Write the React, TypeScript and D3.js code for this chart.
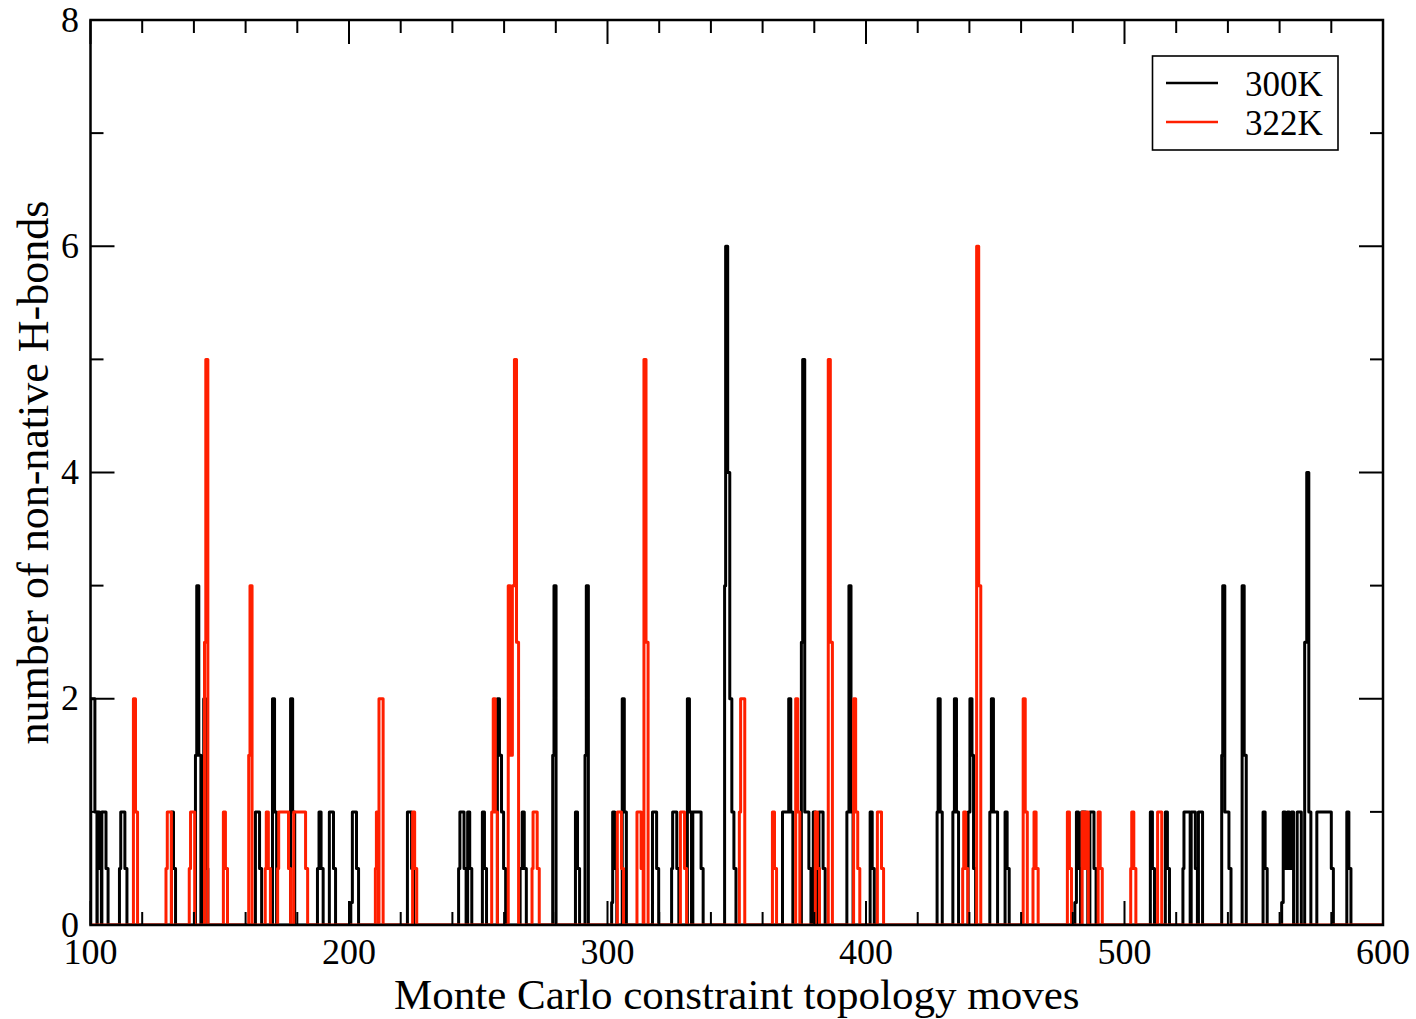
import React from "react";
import * as d3 from "d3";

// Non-zero samples: [move, H-bonds]
const series300K: [number, number][] = [
  [100.1, 2], [100.9, 2], [101.7, 1],
  [102.6, 1], [103.4, 0.5], [104.4, 1], [105.2, 1], [106.0, 0.5],
  [111.2, 0.5], [111.7, 1], [112.5, 1], [113.3, 0.5],
  [131.3, 1], [132.1, 0.5],
  [140.6, 1.5], [141.1, 3], [141.9, 1.5],
  [143.8, 2], [144.6, 0.5],
  [163.8, 1], [164.6, 1], [165.4, 0.5],
  [170.4, 2], [171.2, 1],
  [177.4, 2], [178.2, 1],
  [187.8, 0.5], [188.4, 1], [189.2, 0.5],
  [192.4, 1], [193.2, 1], [194.0, 0.5],
  [200.7, 0.2], [201.3, 1], [202.1, 1], [202.9, 0.5],
  [222.6, 1], [223.4, 1], [224.2, 0.5],
  [242.4, 0.5], [242.9, 1], [243.7, 1], [244.5, 0.5],
  [245.9, 1], [246.7, 0.5],
  [251.6, 1], [252.4, 0.5],
  [257.4, 2], [258.2, 1.5], [259.0, 1], [259.8, 0.5],
  [266.2, 0.5], [267.0, 1], [267.8, 0.5],
  [278.8, 1.5], [279.3, 3],
  [287.6, 1], [288.4, 0.5],
  [291.3, 1.5], [291.8, 3],
  [301.6, 0.2], [302.0, 1], [302.8, 0.5],
  [305.7, 2], [306.5, 1],
  [317.4, 1], [318.2, 1], [319.0, 0.5],
  [324.8, 0.5], [325.2, 1], [326.0, 1], [326.8, 0.5],
  [330.9, 2], [331.7, 1],
  [333.0, 1], [333.8, 1], [334.6, 1], [335.4, 1], [336.2, 0.5],
  [345.3, 3], [345.7, 6], [346.5, 4], [347.3, 2], [348.1, 1], [348.9, 0.5],
  [367.7, 1], [368.5, 1], [369.3, 1], [370.1, 2], [370.9, 1],
  [375.0, 2.5], [375.5, 5], [376.3, 1], [377.1, 1], [377.9, 0.5],
  [379.6, 1], [380.4, 0.5], [381.8, 1], [382.6, 1], [383.4, 0.5],
  [392.6, 1], [393.4, 3], [394.2, 1],
  [401.6, 1], [402.4, 0.5],
  [427.5, 1], [427.9, 2], [428.7, 1],
  [433.6, 1], [434.2, 2], [435.0, 1],
  [439.5, 1], [440.2, 2], [441.0, 1.5], [441.6, 0.5],
  [447.9, 1], [448.5, 2], [449.3, 1], [450.1, 1],
  [453.8, 1], [454.6, 0.5],
  [480.8, 0.2], [481.4, 1], [482.2, 0.5], [483.4, 1], [484.2, 1], [485.0, 0.5],
  [486.6, 1], [487.4, 1], [488.2, 0.5],
  [510.0, 1], [510.8, 0.5],
  [515.8, 1], [516.6, 0.5],
  [522.6, 0.5], [523.0, 1], [523.8, 1], [524.6, 1], [525.8, 1], [526.6, 1], [527.4, 0.5],
  [528.6, 1], [529.4, 1],
  [537.6, 1.5], [538.0, 3], [538.8, 1], [539.6, 1], [540.4, 0.5],
  [545.5, 3], [546.3, 1.5],
  [553.6, 1], [554.4, 0.5],
  [560.8, 0.2], [561.4, 1], [562.2, 0.5], [563.0, 1], [563.8, 0.5], [564.6, 1],
  [566.8, 1], [567.6, 1],
  [569.7, 2.5], [570.5, 4], [571.3, 1],
  [574.4, 1], [575.2, 1], [576.0, 1], [576.8, 1], [577.6, 1], [578.4, 1], [579.2, 1], [580.0, 0.5],
  [586.0, 1], [586.8, 0.5],
];

const series322K: [number, number][] = [
  [116.6, 2], [117.4, 1],
  [129.2, 0.5], [129.7, 1], [130.5, 1],
  [138.2, 0.5], [138.7, 1], [139.5, 1],
  [144.1, 2.5], [144.6, 5],
  [151.4, 1], [152.2, 0.5],
  [161.2, 1.5], [161.7, 3],
  [167.6, 0.5], [168.0, 1], [168.8, 0.5],
  [172.4, 0.5], [172.8, 1], [173.6, 1], [174.4, 1], [175.2, 1], [176.0, 1], [176.6, 0.5],
  [178.6, 1], [179.4, 1], [180.2, 1], [181.0, 1], [181.8, 1], [182.6, 1], [183.2, 0.5],
  [210.2, 0.5], [210.6, 1], [211.6, 2], [212.4, 2],
  [224.6, 1], [225.4, 0.5],
  [255.2, 1], [255.8, 2], [256.6, 1],
  [261.6, 3], [262.4, 1.5], [263.2, 3], [264.0, 5], [264.8, 2.5],
  [270.8, 0.5], [271.2, 1], [272.0, 1], [272.8, 0.5],
  [303.8, 1], [304.6, 1], [305.4, 0.5],
  [311.4, 1], [312.2, 1], [313.0, 0.5],
  [314.1, 5], [314.9, 2.5],
  [328.2, 1], [329.0, 1], [329.8, 0.5],
  [351.0, 1], [351.5, 2], [352.3, 2],
  [363.8, 1], [364.6, 0.5],
  [372.8, 2], [373.6, 1],
  [380.4, 1], [381.2, 0.5],
  [385.4, 5], [386.2, 2.5],
  [395.2, 2], [396.0, 1], [396.8, 0.5],
  [404.4, 1], [405.2, 1], [406.0, 0.5],
  [437.4, 0.5], [437.8, 1], [438.6, 0.5],
  [442.8, 6], [443.6, 3],
  [460.8, 2], [461.6, 1],
  [464.6, 0.5], [465.0, 1], [465.8, 0.5],
  [477.9, 1], [478.7, 0.5],
  [483.6, 1], [484.4, 0.5], [485.2, 1],
  [489.8, 1], [490.6, 0.5],
  [502.4, 0.5], [502.8, 1], [503.6, 0.5],
  [512.8, 1], [513.6, 1],
];

const xTicksMajor = [100, 200, 300, 400, 500, 600];
const yTicksMajor = [0, 2, 4, 6, 8];
const legendLabels = ["300K", "322K"];
const seriesColors = ["#000000", "#ff1f00"];

const W = 1416;
const H = 1019;
const L = 90.5, R = 1383, T = 20, B = 925;
const STEP = 0.8;

function expand(ev: [number, number][]): [number, number][] {
  const out: [number, number][] = [[100, 0]];
  ev.forEach((e, i) => {
    out.push(e);
    const nx = i + 1 < ev.length ? ev[i + 1][0] : Infinity;
    if (nx - e[0] > STEP + 0.01) out.push([e[0] + STEP, 0]);
  });
  out.push([600, 0]);
  return out;
}

export default function App() {
  const x = d3.scaleLinear().domain([100, 600]).range([L, R]);
  const y = d3.scaleLinear().domain([0, 8]).range([B, T]);
  const line = d3
    .line<[number, number]>()
    .x((d) => x(d[0]))
    .y((d) => y(d[1]))
    .curve(d3.curveStepAfter);

  const xMinor = d3.range(100, 601, 20).filter((v) => v % 100 !== 0);
  const yMinor = d3.range(0, 9, 1).filter((v) => v % 2 !== 0);
  const font = "'Liberation Serif', 'Times New Roman', serif";

  return (
    <svg
      width={W}
      height={H}
      style={{ position: "absolute", left: 0, top: 0, background: "#fff" }}
      fontFamily={font}
    >
      <rect x={0} y={0} width={W} height={H} fill="#fff" />
      <defs>
        <clipPath id="plot">
          <rect x={L} y={T} width={R - L} height={B - T} />
        </clipPath>
      </defs>
      <g clipPath="url(#plot)" fill="none" strokeWidth={3} strokeLinejoin="round">
        <path d={line(expand(series300K)) || ""} stroke={seriesColors[0]} />
        <path d={line(expand(series322K)) || ""} stroke={seriesColors[1]} />
      </g>
      {/* ticks */}
      <g stroke="#000" strokeWidth={2}>
        {xTicksMajor.map((v) => (
          <g key={"xm" + v}>
            <line x1={x(v)} x2={x(v)} y1={B} y2={B - 24} />
            <line x1={x(v)} x2={x(v)} y1={T} y2={T + 24} />
          </g>
        ))}
        {xMinor.map((v) => (
          <g key={"xn" + v}>
            <line x1={x(v)} x2={x(v)} y1={B} y2={B - 13} />
            <line x1={x(v)} x2={x(v)} y1={T} y2={T + 13} />
          </g>
        ))}
        {yTicksMajor.map((v) => (
          <g key={"ym" + v}>
            <line x1={L} x2={L + 24} y1={y(v)} y2={y(v)} />
            <line x1={R} x2={R - 24} y1={y(v)} y2={y(v)} />
          </g>
        ))}
        {yMinor.map((v) => (
          <g key={"yn" + v}>
            <line x1={L} x2={L + 13} y1={y(v)} y2={y(v)} />
            <line x1={R} x2={R - 13} y1={y(v)} y2={y(v)} />
          </g>
        ))}
      </g>
      <rect x={L} y={T} width={R - L} height={B - T} fill="none" stroke="#000" strokeWidth={2.5} />
      {/* tick labels */}
      <g fontSize={36} fill="#000">
        {xTicksMajor.map((v) => (
          <text key={"xl" + v} x={x(v)} y={964} textAnchor="middle">
            {v}
          </text>
        ))}
        {yTicksMajor.map((v) => (
          <text key={"yl" + v} x={79} y={y(v) - 1} dy="0.35em" textAnchor="end">
            {v}
          </text>
        ))}
      </g>
      <text x={(L + R) / 2} y={1009} textAnchor="middle" fontSize={43} fill="#000">
        Monte Carlo constraint topology moves
      </text>
      <text
        transform={`translate(48, ${(T + B) / 2}) rotate(-90)`}
        textAnchor="middle"
        fontSize={44}
        fill="#000"
      >
        number of non-native H-bonds
      </text>
      {/* legend */}
      <rect x={1152.5} y={56} width={185.5} height={94} fill="#fff" stroke="#000" strokeWidth={1.6} />
      {legendLabels.map((lab, i) => (
        <g key={lab}>
          <line
            x1={1166}
            x2={1218}
            y1={83 + i * 39}
            y2={83 + i * 39}
            stroke={seriesColors[i]}
            strokeWidth={2.5}
          />
          <text x={1245} y={96 + i * 39} fontSize={35} fill="#000">
            {lab}
          </text>
        </g>
      ))}
    </svg>
  );
}
